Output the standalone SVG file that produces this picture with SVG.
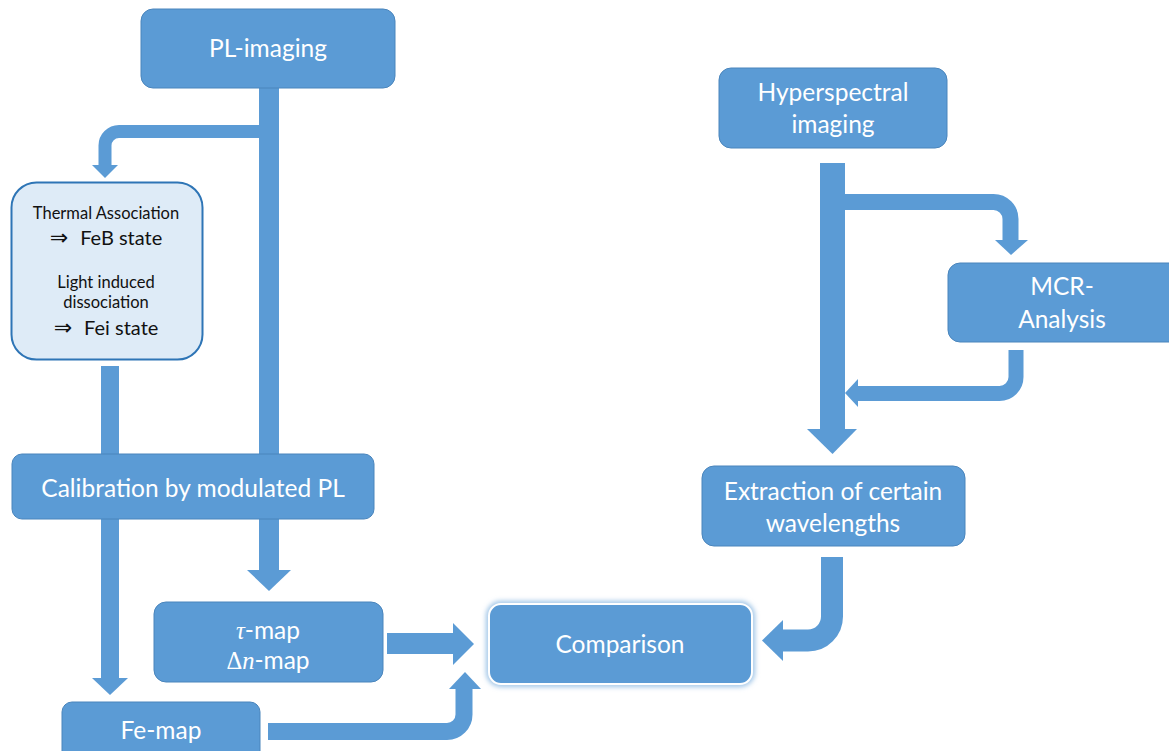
<svg xmlns="http://www.w3.org/2000/svg" width="1169" height="751" viewBox="0 0 1169 751">
<style>
.box{fill:#5B9BD5;stroke:#4A85BC;stroke-width:1}
.t{font-family:Lato,"Open Sans",sans-serif;font-size:24.5px;fill:#FFFFFF;text-anchor:middle}
.k{font-family:Lato,"Open Sans",sans-serif;fill:#111111;text-anchor:middle}
.m{font-family:"Liberation Serif",serif;font-style:italic}
.c{fill:#5B9BD5}
.s{fill:none;stroke:#5B9BD5}
.ar{font-family:"DejaVu Sans",sans-serif;font-size:22px}
</style>
<defs>
<filter id="glow" x="-10%" y="-20%" width="120%" height="140%"><feGaussianBlur stdDeviation="2.5"/></filter>
</defs>
<rect width="1169" height="751" fill="#FFFFFF"/>
<g id="connectors">
<rect class="c" x="259" y="88" width="20" height="482"/>
<polygon class="c" points="247,570 291,570 269,591"/>
<path class="s" stroke-width="13" d="M259,131.5 H119 A14,14 0 0 0 105,145.5 V166"/>
<polygon class="c" points="92,165 118,165 105,178"/>
<rect class="c" x="101" y="366" width="18" height="312"/>
<polygon class="c" points="92,678 128,678 110,695"/>
<rect class="c" x="387" y="633" width="66" height="21"/>
<polygon class="c" points="453,623 453,665 474,644"/>
<path class="s" stroke-width="17" d="M268,731.5 H447 A17,17 0 0 0 464,714.5 V688"/>
<polygon class="c" points="449,689 481,689 465,672"/>
<rect class="c" x="820" y="163" width="25" height="266"/>
<polygon class="c" points="807,429 857,429 832.5,454"/>
<path class="s" stroke-width="16" d="M845,202 H993.5 A17,17 0 0 1 1010.5,219 V241"/>
<polygon class="c" points="995,240 1028,240 1011,255"/>
<path class="s" stroke-width="15" d="M1016,350 V377 A16.5,16.5 0 0 1 999.5,393.5 H856"/>
<polygon class="c" points="858,379 858,407 845,393"/>
<path class="s" stroke-width="22" d="M832,557 V616.5 A24,24 0 0 1 808,640.5 H782"/>
<polygon class="c" points="783,620 783,661 762,640.5"/>
</g>
<g id="pl-imaging">
<rect class="box" x="141" y="9" width="254" height="79" rx="12"/>
<text class="t" x="268" y="57">PL-imaging</text>
</g>
<g id="thermal">
<rect x="11.5" y="182.5" width="191" height="177" rx="25" fill="#DEEBF7" stroke="#2E75B6" stroke-width="2"/>
<text class="k" x="106" y="219" font-size="16.5">Thermal Association</text>
<text class="k" x="106" y="245" font-size="20"><tspan class="ar">⇒</tspan><tspan dx="12">FeB state</tspan></text>
<text class="k" x="106" y="288" font-size="16.5">Light induced</text>
<text class="k" x="106" y="308" font-size="16.5">dissociation</text>
<text class="k" x="106" y="335" font-size="20"><tspan class="ar">⇒</tspan><tspan dx="12">Fei state</tspan></text>
</g>
<g id="calibration">
<rect class="box" x="12" y="454" width="362" height="65" rx="10"/>
<text class="t" x="193" y="497">Calibration by modulated PL</text>
</g>
<g id="tau-map">
<rect class="box" x="154" y="602" width="229" height="80" rx="12"/>
<text class="t" x="268" y="639"><tspan class="m">τ</tspan>-map</text>
<text class="t" x="268" y="669"><tspan font-family="'Liberation Serif',serif">Δ</tspan><tspan class="m">n</tspan>-map</text>
</g>
<g id="fe-map">
<rect class="box" x="62" y="702" width="198" height="60" rx="10"/>
<text class="t" x="161" y="739">Fe-map</text>
</g>
<g id="comparison">
<rect x="489" y="604" width="263" height="80" rx="12" fill="none" stroke="#9DC3E6" stroke-width="6" filter="url(#glow)"/>
<rect x="489" y="604" width="263" height="80" rx="12" fill="#5B9BD5" stroke="#FFFFFF" stroke-width="2"/>
<text class="t" x="620" y="653">Comparison</text>
</g>
<g id="hyperspectral">
<rect class="box" x="719" y="68" width="228" height="80" rx="12"/>
<text class="t" x="833" y="101">Hyperspectral</text>
<text class="t" x="833" y="133">imaging</text>
</g>
<g id="mcr">
<rect class="box" x="948" y="263" width="240" height="79" rx="12"/>
<text class="t" x="1062" y="295">MCR-</text>
<text class="t" x="1062" y="328">Analysis</text>
</g>
<g id="extraction">
<rect class="box" x="702" y="466" width="263" height="80" rx="12"/>
<text class="t" x="833" y="500">Extraction of certain</text>
<text class="t" x="833" y="532">wavelengths</text>
</g>
</svg>
